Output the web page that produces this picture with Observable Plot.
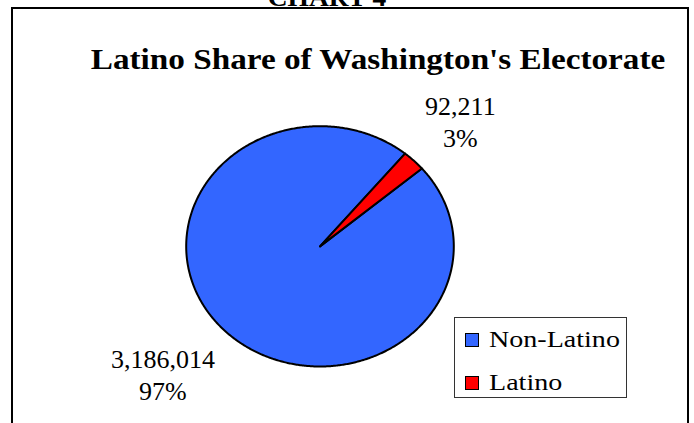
<!DOCTYPE html>
<html><head><meta charset="utf-8">
<script src="https://cdn.jsdelivr.net/npm/d3@7"></script>
<script src="https://cdn.jsdelivr.net/npm/@observablehq/plot@0.6"></script>
<style>
html,body{margin:0;padding:0;background:#fff;}
#wrap{position:relative;width:694px;height:423px;overflow:hidden;font-family:"Liberation Serif","Times New Roman",serif;color:#000;}
.abs{position:absolute;white-space:nowrap;line-height:1;}
#chart{position:absolute;left:0;top:0;}
</style></head><body>
<div id="wrap">
  <div id="chart"></div>
  <div class="abs" style="left:10.7px;top:7.3px;width:678px;height:440px;border:2px solid #000;box-sizing:border-box;"></div>
  <div class="abs" id="supertitle" style="left:327px;top:-14.9px;font-size:25px;font-weight:bold;transform:translateX(-50%) scaleX(1.1);">CHART 4</div>
  <div class="abs" id="title" style="left:378.3px;top:43.9px;font-size:30px;font-weight:bold;transform:translateX(-50%) scaleX(1.107);"></div>
  <div id="legend" class="abs" style="left:454px;top:316.7px;width:172.7px;height:81.6px;border:1px solid #333;box-sizing:border-box;background:#fff;"></div>
</div>
<script>
const titleText = "Latino Share of Washington's Electorate";
const categories = ["Non-Latino", "Latino"];
const voters = [3186014, 92211];
const colors = ["#3366FF", "#FF0000"];
const rotationDeg = 49.6;

document.getElementById("title").textContent = titleText;

const total = d3.sum(voters);
const start = rotationDeg * Math.PI / 180;
const slices = d3.pie().sort(null).value(d => d.value)
  .startAngle(start).endAngle(start + 2 * Math.PI)(
    categories.map((name, i) => ({name, value: voters[i]})));

const outline = [];
for (const s of slices) {
  outline.push({name: s.data.name, x: 0, y: 0});
  const n = Math.max(2, Math.ceil((s.endAngle - s.startAngle) / (Math.PI / 360)));
  for (let k = 0; k <= n; k++) {
    const a = s.startAngle + (s.endAngle - s.startAngle) * k / n;
    outline.push({name: s.data.name, x: Math.sin(a), y: Math.cos(a)});
  }
}

const labelFontSize = 26;
const ctx = document.createElement("canvas").getContext("2d");
ctx.font = `${labelFontSize}px 'Liberation Serif'`;

const labels = slices.map(s => {
  const a = (s.startAngle + s.endAngle) / 2;
  const lines = [d3.format(",")(s.data.value), d3.format(".0%")(s.data.value / total)];
  return {
    name: s.data.name,
    text: lines.join("\n"),
    width: d3.max(lines, l => ctx.measureText(l).width),
    x: 1.12 * Math.sin(a), y: 1.16 * Math.cos(a),
    right: Math.sin(a) >= 0, top: Math.cos(a) >= 0
  };
});

const labelMarks = labels.map(d => Plot.text([d], {
  x: "x", y: "y", text: "text",
  textAnchor: "middle",
  dx: (d.right ? 1 : -1) * d.width / 2,
  lineAnchor: d.top ? "bottom" : "top",
  fontSize: labelFontSize, lineHeight: 1.23, fill: "#000"
}));

const chart = Plot.plot({
  width: 694, height: 423,
  marginLeft: 185.7, marginRight: 240.7, marginTop: 125.7, marginBottom: 57,
  x: {domain: [-1, 1], axis: null},
  y: {domain: [-1, 1], axis: null},
  color: {domain: categories, range: colors},
  style: {background: "none", overflow: "visible", fontFamily: "'Liberation Serif', 'Times New Roman', serif"},
  marks: [
    Plot.line(outline, {x: "x", y: "y", z: "name", fill: "name", stroke: "#000", strokeWidth: 2, curve: "linear-closed"}),
    ...labelMarks
  ]
});
document.getElementById("chart").appendChild(chart);

const legend = document.getElementById("legend");
const legendTops = [15.8, 58.1];
categories.forEach((c, i) => {
  const sw = document.createElement("div");
  sw.style.cssText = `position:absolute;left:10px;top:${legendTops[i]}px;width:14px;height:14px;box-sizing:border-box;border:1.5px solid #000;background:${colors[i]};`;
  legend.appendChild(sw);
  const tx = document.createElement("div");
  tx.className = "abs";
  tx.style.cssText += `left:34.3px;top:${legendTops[i] - 5.1}px;font-size:23px;transform-origin:left center;transform:scaleX(1.22);`;
  tx.textContent = c;
  legend.appendChild(tx);
});
</script>
</body></html>
